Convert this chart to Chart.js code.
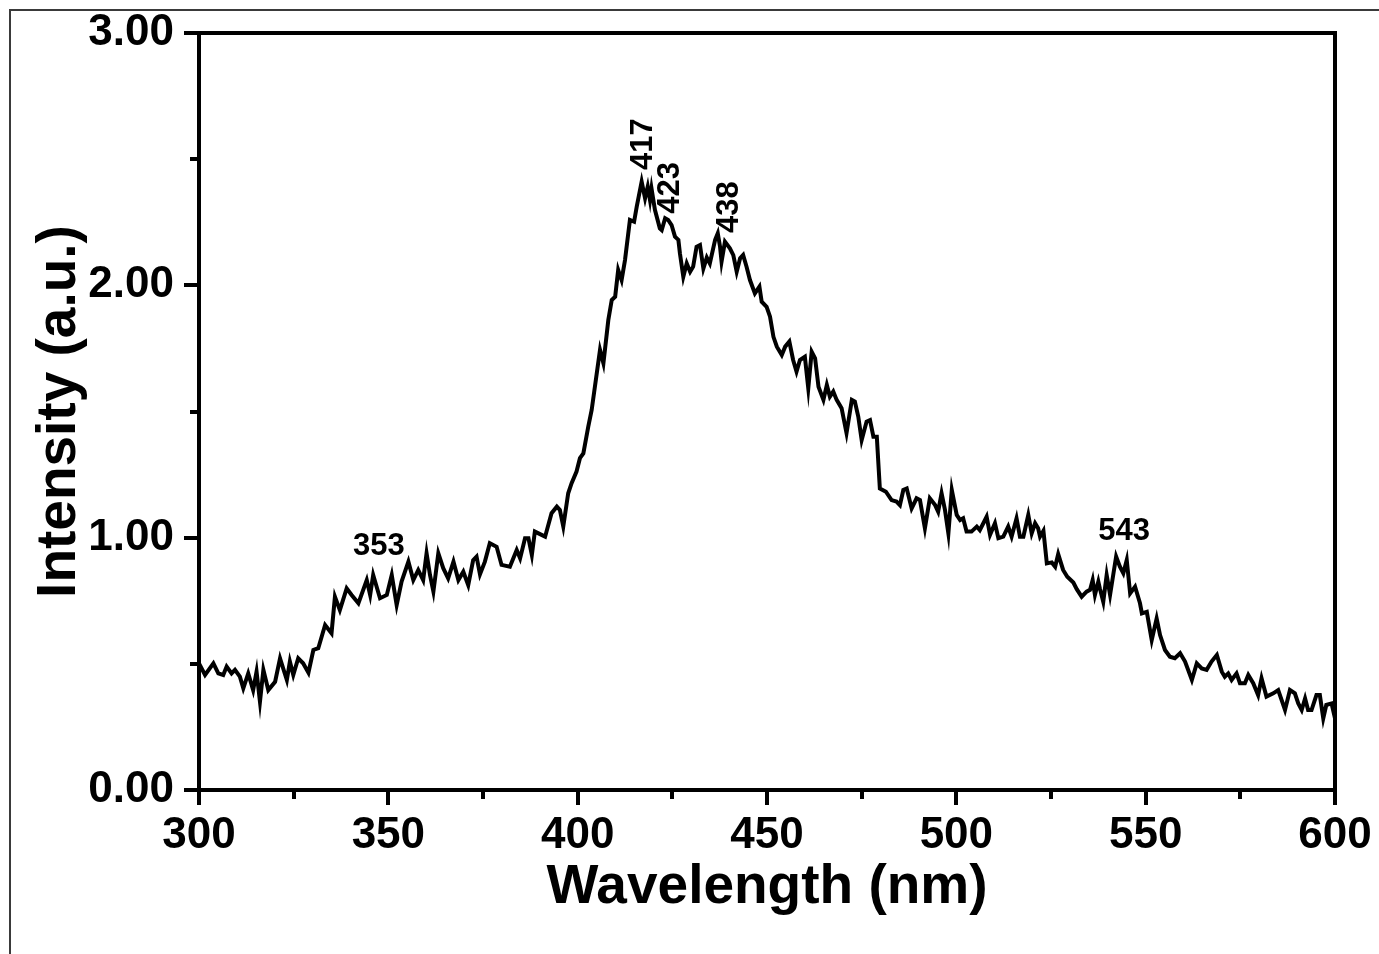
<!DOCTYPE html>
<html>
<head>
<meta charset="utf-8">
<script src="https://cdn.jsdelivr.net/npm/chart.js@4.4.1/dist/chart.umd.min.js"></script>
<style>
  html, body { margin: 0; padding: 0; background: #ffffff; }
  #wrap { position: relative; width: 1379px; height: 954px; overflow: hidden; }
  canvas { display: block; }
</style>
</head>
<body>
<div id="wrap"><canvas id="c" width="1379" height="954"></canvas></div>
<script>
// ---- data ----
const wavelength = [
  300.0, 301.6, 303.8, 305.1, 306.4, 307.3, 308.6, 309.5, 310.8, 311.7,
  313.0, 314.3, 315.2, 316.1, 317.0, 318.3, 320.1, 321.4, 323.2, 324.0,
  324.9, 326.2, 327.5, 328.9, 330.2, 331.5, 333.3, 335.0, 335.9, 337.2,
  339.0, 340.3, 342.1, 344.3, 345.2, 346.0, 347.8, 349.6, 350.9, 352.2,
  353.5, 355.3, 356.6, 357.9, 359.2, 360.1, 361.0, 361.9, 363.2, 364.5,
  365.8, 367.2, 368.5, 369.8, 371.1, 372.4, 373.3, 374.2, 375.5, 376.8,
  378.6, 379.9, 382.1, 383.9, 384.8, 386.1, 387.0, 387.9, 388.7, 391.4,
  393.1, 394.5, 395.3, 396.2, 397.5, 398.4, 399.7, 400.6, 401.5, 402.8,
  403.7, 405.9, 406.8, 408.1, 409.0, 409.9, 410.7, 411.6, 412.5, 413.8,
  414.9, 415.6, 416.9, 417.8, 418.5, 419.1, 419.5, 420.4, 421.7, 422.2,
  423.1, 423.9, 424.8, 425.7, 426.6, 427.0, 427.9, 428.8, 429.7, 430.5,
  431.4, 432.3, 433.2, 434.1, 434.9, 436.3, 437.0, 437.6, 438.0, 438.9,
  440.2, 441.1, 442.0, 442.9, 443.7, 444.6, 445.5, 446.8, 448.0, 448.6,
  449.9, 450.8, 451.7, 452.6, 453.9, 454.8, 455.9, 456.9, 457.8, 458.7,
  460.0, 460.9, 461.8, 462.7, 463.6, 464.9, 465.8, 466.6, 467.5, 468.4,
  469.7, 471.0, 472.4, 473.2, 474.1, 475.0, 476.3, 477.2, 478.1, 479.0,
  479.8, 481.4, 482.9, 484.2, 485.1, 486.0, 486.9, 488.2, 489.5, 490.4,
  491.7, 493.0, 494.4, 495.2, 496.1, 497.0, 497.9, 498.8, 500.1, 501.0,
  501.8, 502.7, 504.0, 505.4, 506.2, 508.0, 508.9, 510.2, 511.1, 512.4,
  513.7, 514.6, 515.9, 516.8, 517.7, 519.0, 519.9, 520.8, 521.6, 522.1,
  523.0, 523.9, 525.2, 526.1, 526.9, 528.2, 529.3, 530.9, 531.8, 533.1,
  534.4, 535.3, 536.0, 536.6, 537.5, 537.9, 538.8, 539.7, 540.6, 541.5,
  542.2, 543.2, 544.1, 545.0, 545.9, 547.2, 548.5, 549.0, 550.3, 551.6,
  552.9, 553.8, 555.1, 556.4, 557.7, 559.1, 560.4, 562.2, 563.5, 564.8,
  566.1, 567.4, 568.8, 570.1, 570.9, 571.8, 572.7, 574.0, 574.9, 576.2,
  577.1, 578.4, 579.7, 580.6, 581.9, 583.7, 585.0, 586.8, 588.1, 589.4,
  590.3, 591.2, 592.1, 592.9, 593.8, 595.1, 596.0, 596.9, 597.7, 599.1,
  600.0
];
const intensity = [
  0.502, 0.456, 0.502, 0.462, 0.456, 0.489, 0.462, 0.476, 0.449, 0.403,
  0.462, 0.396, 0.469, 0.350, 0.476, 0.396, 0.429, 0.522, 0.436, 0.509,
  0.456, 0.522, 0.502, 0.465, 0.555, 0.562, 0.654, 0.621, 0.766, 0.713,
  0.799, 0.773, 0.740, 0.832, 0.773, 0.852, 0.760, 0.773, 0.852, 0.733,
  0.826, 0.905, 0.832, 0.872, 0.832, 0.938, 0.852, 0.786, 0.938, 0.879,
  0.839, 0.905, 0.832, 0.865, 0.812, 0.911, 0.925, 0.855, 0.905, 0.978,
  0.964, 0.892, 0.885, 0.951, 0.918, 0.998, 0.998, 0.931, 1.024, 1.004,
  1.097, 1.123, 1.110, 1.044, 1.176, 1.216, 1.262, 1.315, 1.334, 1.440,
  1.506, 1.744, 1.691, 1.863, 1.942, 1.955, 2.061, 2.021, 2.100, 2.259,
  2.252, 2.312, 2.411, 2.345, 2.391, 2.338, 2.384, 2.299, 2.226, 2.219,
  2.266, 2.259, 2.239, 2.193, 2.180, 2.127, 2.034, 2.087, 2.054, 2.074,
  2.153, 2.160, 2.067, 2.110, 2.087, 2.180, 2.206, 2.153, 2.094, 2.173,
  2.147, 2.120, 2.054, 2.107, 2.120, 2.074, 2.021, 1.968, 1.995, 1.935,
  1.915, 1.876, 1.796, 1.757, 1.724, 1.757, 1.777, 1.704, 1.658, 1.704,
  1.717, 1.592, 1.737, 1.711, 1.598, 1.546, 1.605, 1.559, 1.579, 1.546,
  1.513, 1.414, 1.546, 1.539, 1.480, 1.387, 1.460, 1.466, 1.400, 1.400,
  1.195, 1.182, 1.149, 1.143, 1.129, 1.189, 1.195, 1.116, 1.156, 1.149,
  1.037, 1.156, 1.129, 1.103, 1.176, 1.110, 1.017, 1.189, 1.090, 1.070,
  1.077, 1.024, 1.024, 1.044, 1.030, 1.083, 1.011, 1.057, 0.998, 1.004,
  1.044, 1.004, 1.077, 1.004, 1.004, 1.090, 1.017, 1.057, 1.037, 1.004,
  1.027, 0.898, 0.902, 0.885, 0.935, 0.872, 0.845, 0.822, 0.796, 0.766,
  0.786, 0.793, 0.832, 0.773, 0.826, 0.799, 0.746, 0.852, 0.773, 0.859,
  0.925, 0.885, 0.859, 0.911, 0.779, 0.806, 0.740, 0.700, 0.706, 0.594,
  0.680, 0.614, 0.555, 0.528, 0.522, 0.542, 0.509, 0.436, 0.502, 0.482,
  0.476, 0.509, 0.535, 0.469, 0.449, 0.462, 0.436, 0.462, 0.423, 0.423,
  0.456, 0.423, 0.376, 0.443, 0.370, 0.383, 0.396, 0.317, 0.396, 0.383,
  0.343, 0.317, 0.363, 0.317, 0.317, 0.376, 0.376, 0.284, 0.337, 0.343,
  0.284
];
// x axis: major ticks and minor ticks (nm)
const xMajorTicks = [300, 350, 400, 450, 500, 550, 600];
const xMinorTicks = [325, 375, 425, 475, 525, 575];
// y axis: tick labels and minor ticks
const yTickLabels = ['0.00', '1.00', '2.00', '3.00'];
const yMinorTicks = [0.5, 1.5, 2.5];
// peak annotations (label, anchor wavelength, anchor intensity, vertical text?)
const peakLabels   = ['353', '417', '423', '438', '543'];
const peakX        = [347.5, 417.3, 424.4, 440.0, 544.3];
const peakY        = [0.967, 2.56, 2.386, 2.31, 1.026];
const peakVertical = [false, true, true, true, false];

const FONT = '"Liberation Sans", Arial, Helvetica, sans-serif';

const extras = {
  id: 'extras',
  beforeDraw(chart) {
    const ctx = chart.ctx;
    ctx.save();
    ctx.strokeStyle = '#3a3a3a';
    ctx.lineWidth = 2;
    ctx.beginPath();
    ctx.moveTo(10, 954); ctx.lineTo(10, 10); ctx.lineTo(1379, 10);
    ctx.stroke();
    ctx.restore();
  },
  afterDraw(chart) {
    const ctx = chart.ctx;
    const a = chart.chartArea;
    const xs = chart.scales.x, ys = chart.scales.y;
    ctx.save();
    ctx.strokeStyle = '#000';
    ctx.lineWidth = 4;
    ctx.lineCap = 'butt';
    // top & right frame
    ctx.beginPath();
    ctx.moveTo(a.left - 2, a.top); ctx.lineTo(a.right, a.top); ctx.lineTo(a.right, a.bottom + 2);
    ctx.stroke();
    // minor ticks
    ctx.beginPath();
    xMinorTicks.forEach(v => {
      const px = Math.round(xs.getPixelForValue(v));
      ctx.moveTo(px, a.bottom); ctx.lineTo(px, a.bottom + 9);
    });
    yMinorTicks.forEach(v => {
      const py = Math.round(ys.getPixelForValue(v));
      ctx.moveTo(a.left, py); ctx.lineTo(a.left - 9, py);
    });
    ctx.stroke();
    // peak labels
    ctx.fillStyle = '#000';
    ctx.font = 'bold 31px ' + FONT;
    ctx.textAlign = 'center';
    ctx.textBaseline = 'middle';
    peakLabels.forEach((t, i) => {
      const px = xs.getPixelForValue(peakX[i]);
      const py = ys.getPixelForValue(peakY[i]);
      ctx.save();
      ctx.translate(px, py);
      if (peakVertical[i]) ctx.rotate(-Math.PI / 2);
      ctx.fillText(t, 0, 0);
      ctx.restore();
    });
    ctx.restore();
  }
};

new Chart(document.getElementById('c'), {
  type: 'line',
  data: {
    datasets: [{
      data: wavelength.map((x, i) => ({ x: x, y: intensity[i] })),
      borderColor: '#000',
      borderWidth: 4,
      pointRadius: 0,
      tension: 0,
      fill: false,
      borderJoinStyle: 'miter'
    }]
  },
  options: {
    responsive: false,
    animation: false,
    devicePixelRatio: 1,
    layout: { padding: { top: 33, right: 44, left: 0, bottom: 0 } },
    plugins: { legend: { display: false }, tooltip: { enabled: false } },
    scales: {
      x: {
        type: 'linear',
        min: 300, max: 600,
        afterFit(s) { s.height = 164; s.paddingLeft = 0; s.paddingRight = 0; },
        afterBuildTicks(s) { s.ticks = xMajorTicks.map(v => ({ value: v })); },
        border: { display: true, color: '#000', width: 4 },
        grid: { display: true, drawOnChartArea: false, drawTicks: true, tickLength: 15, lineWidth: 4, color: '#000' },
        ticks: {
          color: '#000', padding: 9, maxRotation: 0, autoSkip: false,
          font: { family: FONT, size: 44, weight: 'bold', lineHeight: 1 },
          callback: v => String(v)
        },
        title: {
          display: true, text: 'Wavelength (nm)', color: '#000',
          font: { family: FONT, size: 55, weight: 'bold', lineHeight: 1.2 },
          padding: { top: 0, bottom: 33 }
        }
      },
      y: {
        type: 'linear',
        min: 0, max: 3,
        afterFit(s) { s.width = 199; s.paddingTop = 0; s.paddingBottom = 0; },
        afterBuildTicks(s) { s.ticks = yTickLabels.map(t => ({ value: parseFloat(t) })); },
        border: { display: true, color: '#000', width: 4 },
        grid: { display: true, drawOnChartArea: false, drawTicks: true, tickLength: 15, lineWidth: 4, color: '#000' },
        ticks: {
          color: '#000', padding: 10, autoSkip: false,
          font: { family: FONT, size: 44, weight: 'bold', lineHeight: 1 },
          callback: (v, i) => yTickLabels[i]
        },
        title: {
          display: true, text: 'Intensity (a.u.)', color: '#000',
          font: { family: FONT, size: 55, weight: 'bold', lineHeight: 1.2 },
          padding: { top: 27, bottom: 0 }
        }
      }
    }
  },
  plugins: [extras]
});
</script>
</body>
</html>
